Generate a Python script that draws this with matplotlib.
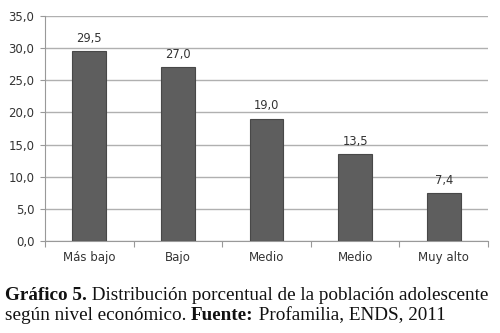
import matplotlib
matplotlib.use("Agg")
import matplotlib.pyplot as plt
import numpy as np

categories = ["Más bajo", "Bajo", "Medio", "Medio", "Muy alto"]
values = [29.5, 27.0, 19.0, 13.5, 7.4]
yticks = [0, 5, 10, 15, 20, 25, 30, 35]

FONT = "DejaVu Sans"
TXT = "#333333"

fig = plt.figure(figsize=(5, 3.33), dpi=100)
ax = fig.add_axes([0.09, 0.2763, 0.886, 0.6757])
x = np.arange(len(categories))
ax.bar(x, values, width=0.38, color="#5e5e5e", edgecolor="#484848", linewidth=0.8, zorder=3)
for xi, v in zip(x, values):
    ax.text(xi, v + 1.0, f"{v:.1f}".replace(".", ","), ha="center", va="bottom",
            fontsize=8.3, family=FONT, color=TXT, zorder=4)
ax.set_xlim(-0.5, len(categories) - 0.5)
ax.set_ylim(0, 35)
ax.set_yticks(yticks)
ax.set_yticklabels([f"{t:.1f}".replace(".", ",") for t in yticks], fontsize=8.5, family=FONT, color=TXT)
ax.set_xticks(x)
ax.set_xticklabels(categories, fontsize=8.5, family=FONT, color=TXT)
ax.tick_params(axis="x", length=0, pad=7)
ax.set_xticks(np.arange(-0.5, len(categories)), minor=True)
ax.tick_params(axis="x", which="minor", length=4, color="#999999", width=0.8)
ax.tick_params(axis="y", length=3.6, color="#999999", width=0.8, pad=4)
ax.yaxis.grid(True, color="#b0b0b0", linewidth=1.0, zorder=0)
for s in ["top", "right"]:
    ax.spines[s].set_visible(False)
for s in ["left", "bottom"]:
    ax.spines[s].set_color("#999999")
    ax.spines[s].set_linewidth(0.8)

fig.canvas.draw()
r = fig.canvas.get_renderer()


def line(parts, y, x0=0.01):
    xc = x0
    for txt, bold in parts:
        t = fig.text(xc, y, txt, fontsize=13.8, family="Liberation Serif",
                     weight="bold" if bold else "normal", va="baseline", color="#111111")
        bb = t.get_window_extent(r)
        xc = bb.x1 / fig.bbox.width


line([("Gráfico 5.", True), (" Distribución porcentual de la población adolescente", False)], 0.099)
line([("según nivel económico. ", False), ("Fuente:", True), (" Profamilia, ENDS, 2011", False)], 0.039)

fig.savefig("out.png", dpi=100)
